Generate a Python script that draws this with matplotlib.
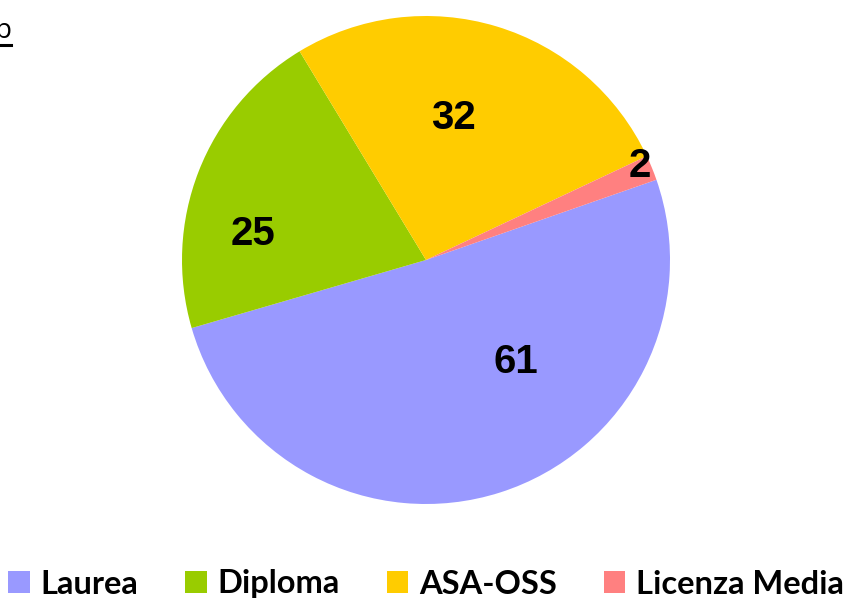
import matplotlib
matplotlib.use("Agg")
import matplotlib.pyplot as plt
from matplotlib.patches import Patch

categories = ["Laurea", "Diploma", "ASA-OSS", "Licenza Media"]
values = [61, 25, 32, 2]
colors = ["#9999FF", "#99CC00", "#FFCC00", "#FF8080"]
label_pos = [(0.369, -0.418), (-0.709, 0.107), (0.111, 0.582), (0.875, 0.385)]

W, H = 847, 603
fig = plt.figure(figsize=(W / 100, H / 100), dpi=100)
cx, cy, r = 426, 260, 244
ax = fig.add_axes([(cx - r) / W, 1 - (cy + r) / H, 2 * r / W, 2 * r / H])
ax.pie(values, colors=colors, startangle=19.2, counterclock=False, radius=1,
       wedgeprops=dict(linewidth=0))
ax.set_xlim(-1, 1)
ax.set_ylim(-1, 1)
ax.set_aspect("equal")
ax.axis("off")

for v, (x, y) in zip(values, label_pos):
    ax.text(x, y, str(v), ha="center", va="center", fontsize=29,
            fontweight="bold", family="Liberation Sans", color="black")

handles = [Patch(facecolor=c, edgecolor="none") for c in colors]
leg = fig.legend(handles, categories, loc="center", bbox_to_anchor=(426 / W, 1 - 584 / H),
                 ncol=4, frameon=False, handlelength=0.66, handleheight=0.66,
                 handletextpad=0.33, columnspacing=1.44, borderpad=0, borderaxespad=0,
                 prop=dict(family="Lato", weight="bold", size=23.5))

# clipped title fragment at top-left
fig.text(-5 / W, 1 - 31 / H, "p", ha="left", va="center", fontsize=20,
         family="Open Sans", color="black")
fig.add_artist(plt.Line2D([0, 11 / W], [1 - 44.5 / H, 1 - 44.5 / H], color="black",
                          linewidth=2.2, transform=fig.transFigure))

fig.savefig("out.png", dpi=100)
